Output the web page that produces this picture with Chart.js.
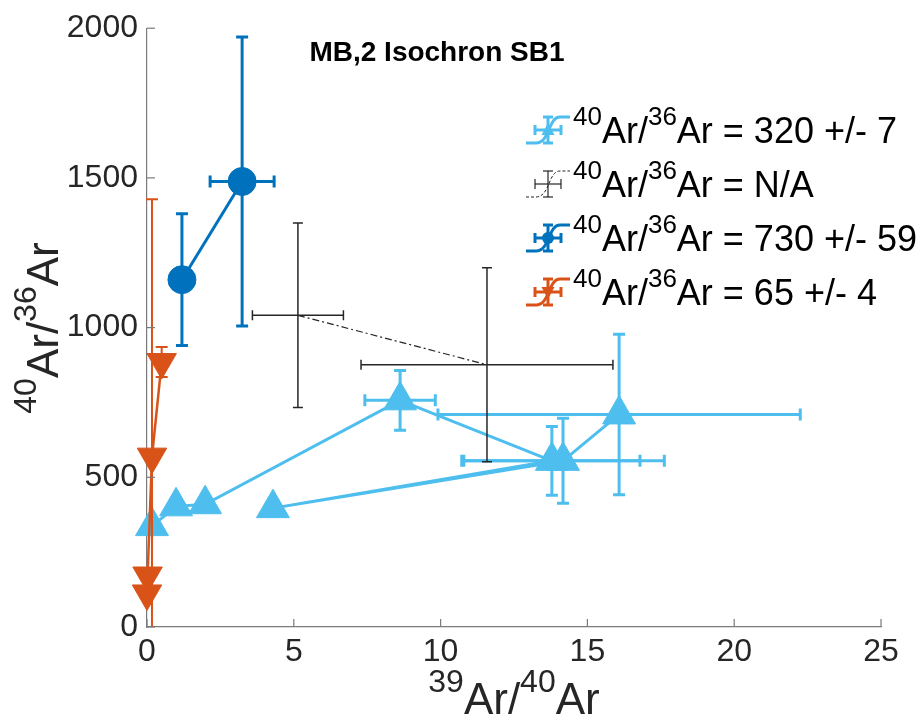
<!DOCTYPE html>
<html><head><meta charset="utf-8">
<script src="https://cdn.jsdelivr.net/npm/chart.js@4.4.0/dist/chart.umd.min.js"></script>
<style>html,body{margin:0;padding:0;background:#fff}#wrap{width:924px;height:724px;position:relative}canvas{display:block}</style>
</head><body><div id="wrap"><canvas id="c" width="924" height="724" style="width:924px;height:724px"></canvas></div>
<script>
// ---- data ----
const xTickValues = [0, 5, 10, 15, 20, 25];
const yTickValues = [0, 500, 1000, 1500, 2000];
const chartTitle = 'MB,2 Isochron SB1';

// cyan series (triangles)  40Ar/36Ar = 320 +/- 7
const cyanX    = [0.17, 0.99, 1.98, 8.62, 13.79, 4.29, 14.17, 16.08];
const cyanY    = [337, 403, 410, 757, 555, 397, 555, 710];
const cyanXErr = [0.1, 0.1, 0.1, 1.2, 3.0, 0.1, 3.45, 6.17];
const cyanYErr = [12, 12, 12, 100, 115, 12, 142, 268];

// black series (no markers)  40Ar/36Ar = N/A
const blackX    = [5.14, 11.58];
const blackY    = [1041, 876];
const blackXErr = [1.55, 4.29];
const blackYErr = [308, 324];

// dark blue series (circles)  40Ar/36Ar = 730 +/- 59
const blueX    = [1.19, 3.24];
const blueY    = [1160, 1488];
const blueXErr = [0.05, 1.09];
const blueYErr = [220, 483];

// orange series (down triangles)  40Ar/36Ar = 65 +/- 4
const orangeX    = [0.0, 0.02, 0.17, 0.5];
const orangeY    = [112, 172, 569, 885];
const orangeXErr = [0.02, 0.02, 0.05, 0.05];
const orangeYErr = [10, 10, 860, 50];

const legendLabels = [
  ['40', 'Ar/', '36', 'Ar = 320 +/- 7'],
  ['40', 'Ar/', '36', 'Ar = N/A'],
  ['40', 'Ar/', '36', 'Ar = 730 +/- 59'],
  ['40', 'Ar/', '36', 'Ar = 65 +/- 4']
];
const xTitleParts = ['39', 'Ar/', '40', 'Ar'];
const yTitleParts = ['40', 'Ar/', '36', 'Ar'];

// ---- styles ----
const CYAN = '#4DBEEE', BLUE = '#0072BD', ORANGE = '#D95319', BLACK = '#262626';
const FONT = '"Liberation Sans", Arial, Helvetica, sans-serif';
const AXIS_COLOR = '#7a7a7a';

function pts(xs, ys) { return xs.map((x, i) => ({ x: x, y: ys[i] })); }

function richWidth(ctx, parts, size) {
  let w = 0;
  parts.forEach((p, i) => {
    const sup = i % 2 === 0;
    ctx.font = (sup ? Math.round(size * 0.72) : size) + 'px ' + FONT;
    w += ctx.measureText(p).width;
  });
  return w;
}
function drawRich(ctx, parts, x, y, size, align) {
  const w = richWidth(ctx, parts, size);
  let cx = align === 'center' ? x - w / 2 : x;
  ctx.textAlign = 'left';
  ctx.textBaseline = 'alphabetic';
  parts.forEach((p, i) => {
    const sup = i % 2 === 0;
    ctx.font = (sup ? Math.round(size * 0.72) : size) + 'px ' + FONT;
    ctx.fillText(p, cx, sup ? y - size * 0.5 : y);
    cx += ctx.measureText(p).width;
  });
}

function seg(ctx, x1, y1, x2, y2) { ctx.beginPath(); ctx.moveTo(x1, y1); ctx.lineTo(x2, y2); ctx.stroke(); }

const errorBarPlugin = {
  id: 'errorBars',
  beforeDatasetDraw(chart, args) {
    const ds = chart.data.datasets[args.index];
    if (!ds.errX) return;
    const xs = chart.scales.x, ys = chart.scales.y, ctx = chart.ctx, a = chart.chartArea;
    ctx.save();
    ctx.beginPath();
    ctx.rect(a.left - 2, a.top - 2, a.right - a.left + 4, a.bottom - a.top + 2);
    ctx.clip();
    ctx.strokeStyle = ds.borderColor;
    ctx.lineWidth = ds.errWidth;
    ctx.setLineDash([]);
    const c = ds.cap;
    ds.data.forEach((p, i) => {
      const px = xs.getPixelForValue(p.x), py = ys.getPixelForValue(p.y);
      const ey = ds.errY[i], ex = ds.errX[i];
      if (ey) {
        const t = ys.getPixelForValue(p.y + ey), b = ys.getPixelForValue(p.y - ey);
        seg(ctx, px, t, px, b); seg(ctx, px - c, t, px + c, t); seg(ctx, px - c, b, px + c, b);
      }
      if (ex) {
        const l = xs.getPixelForValue(p.x - ex), r = xs.getPixelForValue(p.x + ex);
        seg(ctx, l, py, r, py); seg(ctx, l, py - c, l, py + c); seg(ctx, r, py - c, r, py + c);
      }
    });
    ctx.restore();
  }
};

const decorPlugin = {
  id: 'decor',
  afterDraw(chart) {
    const ctx = chart.ctx, a = chart.chartArea, xs = chart.scales.x, ys = chart.scales.y;
    ctx.save();
    ctx.strokeStyle = AXIS_COLOR; ctx.lineWidth = 1.2;
    xs.ticks.forEach(t => { const px = xs.getPixelForValue(t.value); seg(ctx, px, a.bottom, px, a.bottom - 8); });
    ys.ticks.forEach(t => { const py = ys.getPixelForValue(t.value); seg(ctx, a.left, py, a.left + 8, py); });
    ctx.fillStyle = '#000';
    ctx.font = 'bold 28px ' + FONT;
    ctx.textAlign = 'center'; ctx.textBaseline = 'alphabetic';
    ctx.fillText(chartTitle, 437, 61);
    ctx.fillStyle = '#262626';
    drawRich(ctx, xTitleParts, 514, 714, 44, 'center');
    ctx.save();
    ctx.translate(58, 328);
    ctx.rotate(-Math.PI / 2);
    drawRich(ctx, yTitleParts, 0, 0, 44, 'center');
    ctx.restore();
    const rowsY = [130, 184, 238, 292];
    const dsets = chart.data.datasets;
    rowsY.forEach((yc, i) => {
      const ds = dsets[i];
      const x0 = 526, w = 44, xm = x0 + 22;
      ctx.strokeStyle = ds.borderColor;
      ctx.fillStyle = ds.borderColor;
      ctx.lineWidth = i === 1 ? 1 : 3;
      ctx.setLineDash(i === 1 ? [3, 2] : []);
      ctx.beginPath();
      ctx.moveTo(x0, yc + 13);
      ctx.lineTo(x0 + 10, yc + 13);
      ctx.bezierCurveTo(x0 + 24, yc + 13, x0 + 22, yc - 13, x0 + 34, yc - 13);
      ctx.lineTo(x0 + w, yc - 13);
      ctx.stroke();
      ctx.setLineDash([]);
      ctx.lineWidth = i === 1 ? 1.2 : 3;
      seg(ctx, xm, yc - 13, xm, yc + 13);
      seg(ctx, xm - 5, yc - 13, xm + 5, yc - 13);
      seg(ctx, xm - 5, yc + 13, xm + 5, yc + 13);
      seg(ctx, xm - 13, yc, xm + 13, yc);
      seg(ctx, xm - 13, yc - 5, xm - 13, yc + 5);
      seg(ctx, xm + 13, yc - 5, xm + 13, yc + 5);
      ctx.beginPath();
      if (i === 0) { ctx.moveTo(xm, yc - 7); ctx.lineTo(xm + 6.5, yc + 5); ctx.lineTo(xm - 6.5, yc + 5); ctx.closePath(); ctx.fill(); }
      else if (i === 2) { ctx.arc(xm, yc, 6, 0, Math.PI * 2); ctx.fill(); }
      else if (i === 3) { ctx.moveTo(xm, yc + 7); ctx.lineTo(xm + 6.5, yc - 5); ctx.lineTo(xm - 6.5, yc - 5); ctx.closePath(); ctx.fill(); }
      ctx.fillStyle = '#000';
      drawRich(ctx, legendLabels[i], 573, yc + 13, 36, 'left');
    });
    ctx.restore();
  }
};

const tickFont = { family: FONT, size: 32 };

new Chart(document.getElementById('c'), {
  type: 'scatter',
  data: {
    datasets: [
      { label: 'cyan', data: pts(cyanX, cyanY), showLine: true, borderColor: CYAN, backgroundColor: CYAN,
        borderWidth: 3, pointStyle: 'triangle', pointRadius: 19, pointBorderWidth: 1, pointBorderColor: CYAN,
        pointBackgroundColor: CYAN, order: 4, clip: false, errX: cyanXErr, errY: cyanYErr, errWidth: 3, cap: 6 },
      { label: 'black', data: pts(blackX, blackY), showLine: true, borderColor: BLACK, backgroundColor: BLACK,
        borderWidth: 1.2, borderDash: [7, 3, 2, 3], pointRadius: 0, order: 3, clip: false,
        errX: blackXErr, errY: blackYErr, errWidth: 1.5, cap: 5 },
      { label: 'blue', data: pts(blueX, blueY), showLine: true, borderColor: BLUE, backgroundColor: BLUE,
        borderWidth: 3, pointStyle: 'circle', pointRadius: 14, pointBorderWidth: 1, pointBorderColor: BLUE,
        pointBackgroundColor: BLUE, order: 2, clip: false, errX: blueXErr, errY: blueYErr, errWidth: 3, cap: 6 },
      { label: 'orange', data: pts(orangeX, orangeY), showLine: true, borderColor: ORANGE, backgroundColor: ORANGE,
        borderWidth: 2.5, pointStyle: 'triangle', pointRotation: 180, pointRadius: 17, pointBorderWidth: 1,
        pointBorderColor: ORANGE, pointBackgroundColor: ORANGE, order: 1, clip: false,
        errX: orangeXErr, errY: orangeYErr, errWidth: 2, cap: 6 }
    ]
  },
  options: {
    responsive: false,
    maintainAspectRatio: false,
    animation: false,
    devicePixelRatio: 1,
    layout: { padding: { top: 22, right: 43, left: 0, bottom: 0 } },
    plugins: { legend: { display: false }, tooltip: { enabled: false }, title: { display: false } },
    scales: {
      x: {
        type: 'linear', min: 0, max: 25,
        afterBuildTicks(s) { s.ticks = xTickValues.map(v => ({ value: v })); },
        ticks: { color: '#262626', font: tickFont, padding: 6, maxRotation: 0, autoSkip: false, callback: v => String(v) },
        grid: { display: true, drawOnChartArea: false, drawTicks: false },
        border: { display: true, color: AXIS_COLOR, width: 1.2 },
        afterFit(s) { s.height = 97; }
      },
      y: {
        type: 'linear', min: 0, max: 2000,
        afterBuildTicks(s) { s.ticks = yTickValues.map(v => ({ value: v })); },
        ticks: { color: '#262626', font: tickFont, padding: 9, autoSkip: false, callback: v => String(v) },
        grid: { display: true, drawOnChartArea: false, drawTicks: false },
        border: { display: true, color: AXIS_COLOR, width: 1.2 },
        afterFit(s) { s.width = 147; }
      }
    }
  },
  plugins: [errorBarPlugin, decorPlugin]
});
</script>
</body></html>
